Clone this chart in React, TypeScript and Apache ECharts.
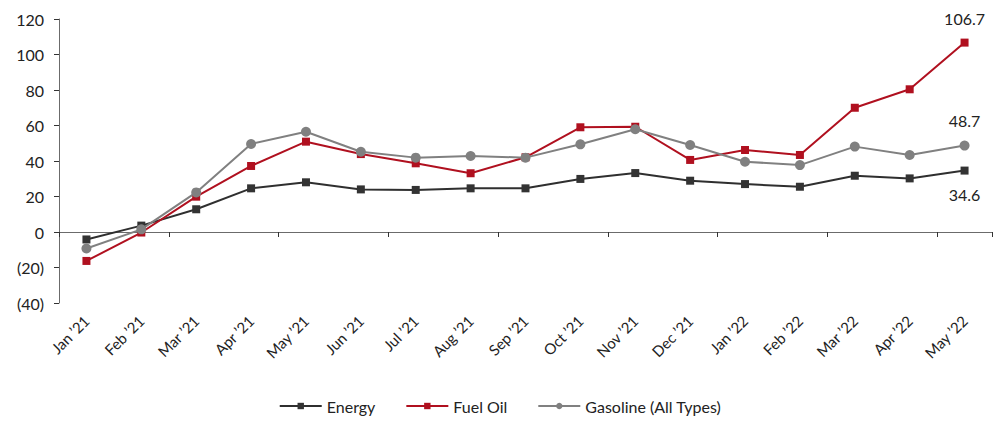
import React, { useEffect, useRef } from "react";
import * as echarts from "echarts";

const categories = ["Jan ’21", "Feb ’21", "Mar ’21", "Apr ’21", "May ’21", "Jun ’21", "Jul ’21", "Aug ’21", "Sep ’21", "Oct ’21", "Nov ’21", "Dec ’21", "Jan ’22", "Feb ’22", "Mar ’22", "Apr ’22", "May ’22"];
const energy = [-4.2, 3.6, 12.8, 24.6, 28.0, 24.0, 23.7, 24.6, 24.6, 29.9, 33.2, 28.9, 27.0, 25.5, 31.7, 30.2, 34.6];
const fuelOil = [-16.3, -0.3, 19.9, 37.2, 50.9, 43.9, 38.7, 33.1, 42.1, 59.0, 59.3, 40.6, 46.2, 43.4, 70.0, 80.4, 106.7];
const gasoline = [-9.3, 1.5, 22.3, 49.6, 56.5, 45.2, 41.9, 42.8, 41.9, 49.4, 57.9, 49.0, 39.6, 37.7, 48.1, 43.4, 48.7];

const FONT = "Lato, 'Open Sans', sans-serif";
const TXT = "#222222";

function withEndLabel(values: number[], position: string) {
  return values.map((v, i) =>
    i === values.length - 1
      ? {
          value: v,
          label: {
            show: true,
            position,
            distance: 12,
            formatter: (p: any) => p.value.toFixed(1),
            color: TXT,
            fontSize: 16,
            fontFamily: FONT,
          },
        }
      : v
  );
}

export default function App() {
  const ref = useRef<HTMLDivElement>(null);
  useEffect(() => {
    if (!ref.current) return;
    const chart = echarts.init(ref.current, undefined, { renderer: "svg" });
    chart.setOption({
      animation: false,
      backgroundColor: "#ffffff",
      textStyle: { fontFamily: FONT },
      grid: { left: 59, right: 8, top: 19, bottom: 125, containLabel: false },
      legend: {
        bottom: 9,
        left: "center",
        itemWidth: 42,
        itemHeight: 8,
        itemGap: 30,
        textStyle: { color: TXT, fontSize: 16, fontFamily: FONT },
        data: ["Energy", "Fuel Oil", "Gasoline (All Types)"],
      },
      xAxis: [
        {
          type: "category",
          data: categories,
          position: "bottom",
          boundaryGap: true,
          axisLine: { show: false, onZero: false },
          axisTick: { show: false },
          axisLabel: { rotate: 45, color: TXT, fontSize: 15, fontFamily: FONT, margin: 15, interval: 0 },
          splitLine: { show: false },
        },
        {
          type: "category",
          data: categories,
          position: "bottom",
          boundaryGap: true,
          axisLine: { show: true, onZero: true, lineStyle: { color: "#6b6b6b", width: 1 } },
          axisTick: { show: true, length: 5, inside: false, lineStyle: { color: "#333333" } },
          axisLabel: { show: false },
          splitLine: { show: false },
        },
      ],
      yAxis: {
        type: "value",
        min: -40,
        max: 120,
        interval: 20,
        axisLine: { show: true, lineStyle: { color: "#6b6b6b", width: 1 } },
        axisTick: { show: true, length: 5, lineStyle: { color: "#333333" } },
        splitLine: { show: false },
        axisLabel: {
          color: TXT,
          fontSize: 16,
          fontFamily: FONT,
          margin: 15,
          formatter: (v: number) => (v < 0 ? `(${Math.abs(v)})` : `${v}`),
        },
      },
      series: [
        {
          name: "Energy",
          type: "line",
          xAxisIndex: 0,
          data: withEndLabel(energy, "bottom"),
          symbol: "rect",
          symbolSize: 8,
          lineStyle: { color: "#2f2f2f", width: 2 },
          itemStyle: { color: "#333333" },
          color: "#333333",
        },
        {
          name: "Fuel Oil",
          type: "line",
          xAxisIndex: 0,
          data: withEndLabel(fuelOil, "top"),
          symbol: "rect",
          symbolSize: 8,
          lineStyle: { color: "#b0101f", width: 2 },
          itemStyle: { color: "#b0101f" },
          color: "#b0101f",
        },
        {
          name: "Gasoline (All Types)",
          type: "line",
          xAxisIndex: 0,
          data: withEndLabel(gasoline, "top"),
          symbol: "circle",
          symbolSize: 10,
          lineStyle: { color: "#808080", width: 2 },
          itemStyle: { color: "#808080" },
          color: "#808080",
        },
      ],
    });
    return () => chart.dispose();
  }, []);
  return (
    <div
      ref={ref}
      style={{ position: "fixed", left: 0, top: 0, width: 1000, height: 428, background: "#fff" }}
    />
  );
}
